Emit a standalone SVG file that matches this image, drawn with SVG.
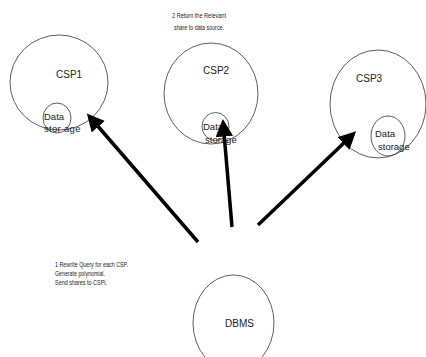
<svg xmlns="http://www.w3.org/2000/svg" width="426" height="357" viewBox="0 0 426 357">
<style>
.c{fill:none;stroke:#333;stroke-width:0.8}
.t{font-family:"Liberation Sans",Arial,sans-serif;font-size:10px;fill:#222}
.s{font-family:"Liberation Sans",Arial,sans-serif;font-size:9.5px;fill:#222}
.n{font-family:"Liberation Sans",Arial,sans-serif;font-size:6.5px;fill:#222}
.a{stroke:#000;stroke-width:3.5;fill:none;marker-end:url(#ah)}
</style>
<defs>
<marker id="ah" viewBox="0 0 10 10" refX="2" refY="5" markerWidth="5" markerHeight="5" orient="auto">
<path d="M0,0 L10,5 L0,10 z" fill="#000"/>
</marker>
</defs>
<rect width="426" height="357" fill="#fff"/>
<g id="note2"><text class="n" x="172" y="18" textLength="54" lengthAdjust="spacingAndGlyphs">2  Return the Relevant</text><text class="n" x="174" y="30" textLength="50" lengthAdjust="spacingAndGlyphs">share to data source.</text></g>
<g id="note1"><text class="n" x="55" y="267" textLength="73" lengthAdjust="spacingAndGlyphs">1 Rewrite Query for each CSP.</text><text class="n" x="55" y="276" textLength="50" lengthAdjust="spacingAndGlyphs">Generate polynomial.</text><text class="n" x="55" y="285" textLength="52" lengthAdjust="spacingAndGlyphs">Send shares to CSPi.</text></g>
<g id="csp1"><ellipse class="c" cx="59" cy="82.5" rx="49" ry="47.5"/><text class="t" x="56" y="78">CSP1</text></g>
<g id="ds1"><ellipse class="c" cx="57" cy="118" rx="14" ry="15"/><text class="s" x="44" y="120">Data</text><text class="s" x="44" y="132" letter-spacing="0.3">stor age</text></g>
<g id="csp2"><ellipse class="c" cx="211" cy="93.5" rx="47" ry="50.5"/><text class="t" x="203" y="74">CSP2</text></g>
<g id="ds2"><ellipse class="c" cx="215.5" cy="126.5" rx="13.5" ry="14"/><text class="s" x="203" y="130">Data</text><text class="s" x="205" y="143">storage</text></g>
<g id="csp3"><ellipse class="c" cx="378" cy="104" rx="48" ry="54"/><text class="t" x="356" y="82">CSP3</text></g>
<g id="ds3"><ellipse class="c" cx="388" cy="136" rx="17" ry="20"/><text class="s" x="375" y="137">Data</text><text class="s" x="378" y="150">storage</text></g>
<g id="dbms"><ellipse class="c" cx="233.5" cy="323" rx="40.5" ry="48"/><text class="t" x="225" y="327">DBMS</text></g>
<g id="connectors">
<line class="a" x1="198" y1="242" x2="96" y2="124"/>
<line class="a" x1="232" y1="227" x2="224" y2="133"/>
<line class="a" x1="258" y1="225" x2="346" y2="141"/>
</g>
</svg>
